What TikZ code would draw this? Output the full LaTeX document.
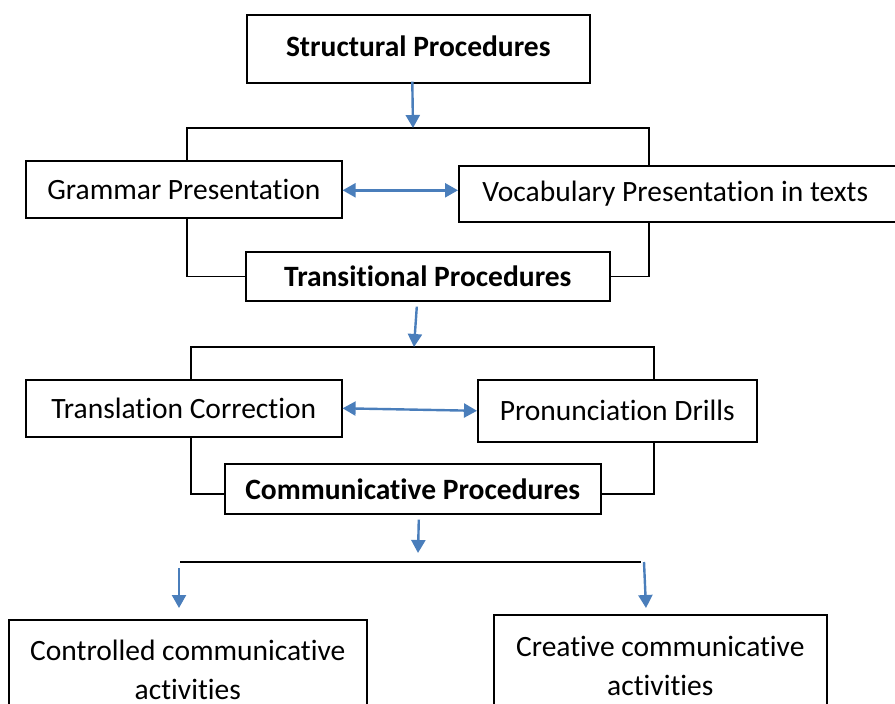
\documentclass[tikz,border=0pt]{standalone}
\usepackage{fontspec}
\setmainfont{Carlito}[Ligatures=NoCommon]
\usetikzlibrary{arrows.meta,calc}
\definecolor{arrblue}{RGB}{74,126,187}
\tikzset{
  box/.style={draw=black, line width=1.6pt, anchor=north west, inner sep=0pt, align=center,
    font=\fontsize{29.5}{39}\selectfont},
  bbox/.style={box, font=\fontsize{29.5}{39}\selectfont\bfseries},
  bline/.style={draw=black, line width=1.6pt},
  barrow/.style={draw=arrblue, line width=2.4pt, -{Triangle[length=13pt,width=14pt]}},
  dbarrow/.style={draw=arrblue, line width=2.4pt, {Triangle[length=13pt,width=14pt]}-{Triangle[length=13pt,width=14pt]}}
}
\begin{document}
\begin{tikzpicture}[x=1pt,y=-1pt]
\useasboundingbox (0,0) rectangle (895,704);
% boxes
\node[bbox, minimum width=343pt, minimum height=68pt] (struct) at (246,14) {\raisebox{5pt}{Structural Procedures}};
\node[box, minimum width=316pt, minimum height=57pt] (gram) at (25,160) {Grammar Presentation};
\node[box, minimum width=445pt, minimum height=56pt] (vocab) at (458,165) {Vocabulary Presentation in texts\hspace*{12pt}};
\node[bbox, minimum width=364pt, minimum height=49pt] (trans) at (245,251) {\raisebox{-3pt}{Transitional Procedures}};
\node[box, minimum width=316pt, minimum height=57pt] (transl) at (25,379) {Translation Correction};
\node[box, minimum width=279pt, minimum height=62pt] (pron) at (477,379) {Pronunciation Drills};
\node[bbox, minimum width=376pt, minimum height=50pt] (comm) at (224,463) {\raisebox{-3pt}{Communicative Procedures}};
\node[box, minimum width=358pt, minimum height=101pt] (ctrl) at (8,619) {\raisebox{2pt}{Controlled communicative}\\\raisebox{2pt}{activities}};
\node[box, minimum width=333pt, minimum height=103pt] (creat) at (493,614) {Creative communicative\\activities};
% bracket coordinates
\coordinate (L1) at (187,128);
\coordinate (R1) at (649,128);
\coordinate (M1) at (413,128);
\coordinate (L2) at (191,347);
\coordinate (R2) at (654,347);
\coordinate (M2) at (414,347);
\coordinate (M3) at (418,553);
\coordinate (HL) at (180,562);
\coordinate (HR) at (641,562);
\coordinate (AL) at (179,608);
\coordinate (AR) at (646,608);
% brackets
\draw[bline] (gram.north -| L1) -- (L1) -- (R1) -- (vocab.north -| R1);
\draw[bline] (gram.south -| L1) |- (trans.west);
\draw[bline] (vocab.south -| R1) |- (trans.east);
\draw[bline] (transl.north -| L2) -- (L2) -- (R2) -- (pron.north -| R2);
\draw[bline] (transl.south -| L2) |- ([yshift=-5pt]comm.west);
\draw[bline] (pron.south -| R2) |- ([yshift=-5pt]comm.east);
\draw[bline] (HL) -- (HR);
% arrows
\draw[barrow] ([xshift=-6pt,yshift=2pt]struct.south) -- (M1);
\draw[dbarrow] ([yshift=-1pt]gram.east) -- ([yshift=-1pt]gram.east -| vocab.west);
\draw[barrow] ([xshift=-11pt,yshift=-5pt]trans.south) -- (M2);
\draw[dbarrow] (transl.east) -- (pron.west);
\draw[barrow] ([xshift=6pt,yshift=-5pt]comm.south) -- (M3);
\draw[barrow] ([yshift=-6pt]HL -| AL) -- (AL);
\draw[barrow] ([xshift=3pt]HR) -- (AR);
\end{tikzpicture}
\end{document}
